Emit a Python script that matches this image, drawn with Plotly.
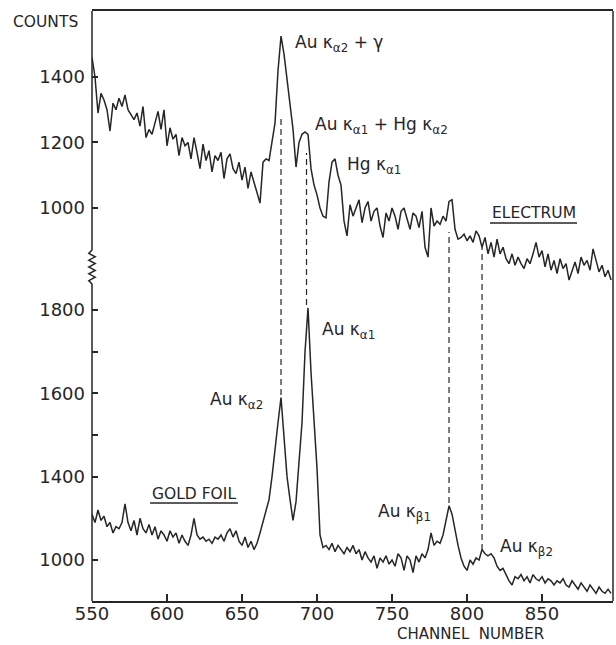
import plotly.graph_objects as go

# ---------------- data ----------------
channels = list(range(550, 897, 2))

electrum_counts = [
    1460, 1400, 1290, 1350, 1330, 1300, 1235, 1320, 1300, 1335,
    1310, 1345, 1300, 1285, 1270, 1290, 1250, 1310, 1215, 1240,
    1225, 1260, 1295, 1240, 1300, 1190, 1245, 1210, 1225, 1160,
    1215, 1190, 1200, 1150, 1215, 1170, 1120, 1195, 1145, 1175,
    1110, 1160, 1145, 1170, 1090, 1150, 1165, 1120, 1105, 1140,
    1085, 1125, 1060, 1110, 1080, 1050, 1015, 1140, 1150, 1145,
    1210, 1260, 1420, 1525, 1470, 1390, 1310, 1240, 1125, 1200,
    1225, 1232, 1225, 1120, 1070, 1040, 1000, 975, 970, 1080,
    1140, 1150, 1100, 1070, 960, 915, 1010, 975, 1000, 1025,
    955, 1000, 1020, 960, 990, 1000, 945, 910, 985, 960,
    1000, 975, 935, 990, 1000, 965, 935, 985, 975, 940,
    990, 880, 850, 1000, 945, 960, 950, 975, 960, 1020,
    1025, 935, 905, 910, 920, 900, 915, 895, 930, 915,
    880, 910, 860, 895, 850, 905, 860, 880, 845, 830,
    860, 825, 850, 830, 815, 845, 830, 860, 895, 850,
    870, 820, 860, 810, 840, 800, 845, 815, 830, 780,
    810, 835, 800, 850, 825, 840, 810, 875, 840, 805,
    825, 790, 810, 780,
]

gold_counts = [
    1310, 1290, 1320, 1295, 1305, 1280, 1290, 1265, 1280, 1275,
    1290, 1335, 1290, 1270, 1295, 1260, 1300, 1275, 1265, 1285,
    1260, 1280, 1250, 1270, 1260, 1245, 1270, 1255, 1265, 1240,
    1260, 1245, 1235, 1260, 1300, 1260, 1250, 1255, 1245, 1250,
    1240, 1255, 1250, 1260, 1245, 1265, 1275, 1255, 1270, 1245,
    1235, 1255, 1230, 1245, 1225, 1240, 1265, 1290, 1320, 1345,
    1400, 1470, 1530, 1590, 1490, 1400, 1345, 1295, 1340, 1440,
    1530, 1700, 1805, 1650, 1540, 1420, 1260, 1230, 1235, 1225,
    1240, 1220, 1235, 1225, 1215, 1230, 1220, 1235, 1215, 1225,
    1200, 1220, 1205, 1195, 1210, 1180, 1205, 1195, 1210, 1190,
    1200, 1185, 1215, 1205, 1175, 1210, 1200, 1170, 1210, 1195,
    1215, 1205, 1225, 1265, 1235, 1245, 1240, 1260, 1300, 1330,
    1310, 1270, 1235, 1205, 1185, 1175, 1200, 1190, 1205, 1200,
    1225, 1215, 1210, 1215, 1205, 1185, 1175, 1180, 1165, 1150,
    1140, 1160, 1155, 1165, 1150, 1160, 1145, 1165, 1155, 1150,
    1160, 1145, 1155, 1150, 1140, 1150, 1145, 1155, 1140, 1135,
    1150, 1140, 1130, 1145, 1135, 1125, 1140, 1130, 1120, 1135,
    1125, 1120, 1130, 1120,
]

x_tick_vals = [550, 600, 650, 700, 750, 800, 850]
x_tick_text = ["550", "600", "650", "700", "750", "800", "850"]

upper_tick_vals = [1000, 1200, 1400]
upper_tick_text = ["1000", "1200", "1400"]

lower_tick_vals = [1200, 1400, 1600, 1800]
lower_tick_text = ["1000", "1400", "1600", "1800"]
lower_minor_vals = [1500, 1700]

# dashed connector lines: channel, top (electrum count), bottom (gold count)
line_channels = [676, 693, 788, 810]
line_top_counts = [1278, 1168, 927, 887]
line_bottom_counts = [1596, 1812, 1337, 1224]

# ---------------- styling ----------------
W, H = 616, 645
ML, MR, MT, MB = 92, 3, 11, 44
X_RANGE = [550, 897.3]
UPPER_RANGE = [-200, 1601.5]
LOWER_RANGE = [1101.6, 2517.6]
INK = "#262626"
FONT = "DejaVu Sans"
PW, PH = W - ML - MR, H - MT - MB


def to_paper(v, rng):
    return (v - rng[0]) / (rng[1] - rng[0])


def py(pixel_y):
    return 1 - (pixel_y - MT) / PH


fig = go.Figure()
fig.add_trace(go.Scatter(x=channels, y=electrum_counts, yaxis="y2", mode="lines",
                         line=dict(color=INK, width=1.5), hoverinfo="skip"))
fig.add_trace(go.Scatter(x=channels, y=gold_counts, yaxis="y", mode="lines",
                         line=dict(color=INK, width=1.5), hoverinfo="skip"))

axis_common = dict(showgrid=False, zeroline=False, ticks="inside", tickcolor=INK,
                   tickwidth=1.5)
yfont = dict(family=FONT, size=18, color=INK)

fig.update_layout(
    width=W, height=H,
    margin=dict(l=ML, r=MR, t=MT, b=MB, autoexpand=False),
    paper_bgcolor="white", plot_bgcolor="white",
    showlegend=False,
    xaxis=dict(range=X_RANGE, tickvals=x_tick_vals, ticktext=x_tick_text,
               ticklen=7, showline=True, linecolor=INK, linewidth=1.5, mirror=True,
               tickfont=dict(family=FONT, size=18, color=INK),
               ticklabelstandoff=-4, **axis_common),
    yaxis=dict(range=LOWER_RANGE, tickvals=lower_tick_vals, ticktext=lower_tick_text,
               ticklen=6, showline=False, ticklabelstandoff=6, tickfont=yfont,
               minor=dict(tickvals=lower_minor_vals, ticks="inside", ticklen=6,
                          tickcolor=INK, tickwidth=1.5),
               **axis_common),
    yaxis2=dict(range=UPPER_RANGE, tickvals=upper_tick_vals, ticktext=upper_tick_text,
                ticklen=6, showline=False, overlaying="y", side="left",
                ticklabelstandoff=6, tickfont=yfont, **axis_common),
)

# left axis line with a zig-zag break
brk_top = py(250)
brk_bot = py(284)
n = 10
d = 3.2 / PW
pts = [(0, 1), (0, brk_top)]
for i in range(1, n):
    pts.append((-d if i % 2 else d, brk_top - (brk_top - brk_bot) * i / n))
pts += [(0, brk_bot), (0, 0)]
path = "M " + " L ".join(f"{x:.5f},{y:.5f}" for x, y in pts)
fig.add_shape(type="path", path=path, xref="paper", yref="paper",
              line=dict(color=INK, width=1.5))
# right frame line
fig.add_shape(type="line", xref="paper", yref="paper", x0=1, x1=1, y0=0, y1=1,
              line=dict(color=INK, width=1.5))

# dashed connector lines
for ch, top, bot in zip(line_channels, line_top_counts, line_bottom_counts):
    fig.add_shape(type="line", xref="x", yref="paper", x0=ch, x1=ch,
                  y0=to_paper(bot, LOWER_RANGE), y1=to_paper(top, UPPER_RANGE),
                  line=dict(color=INK, width=1.2, dash="6px,4px"))

# peak annotations
ann_font = dict(family=FONT, size=17, color=INK)
labels = [
    ("Au κ<sub>α2</sub> + γ", 684, 1501, "y2"),
    ("Au κ<sub>α1</sub> + Hg κ<sub>α2</sub>", 697.3, 1253, "y2"),
    ("Hg κ<sub>α1</sub>", 718.7, 1131, "y2"),
    ("Au κ<sub>α1</sub>", 702, 1750, "y"),
    ("Au κ<sub>α2</sub>", 627.3, 1584, "y"),
    ("Au κ<sub>β1</sub>", 739.3, 1315, "y"),
    ("Au κ<sub>β2</sub>", 820.7, 1229, "y"),
]
for text, x, y, yref in labels:
    fig.add_annotation(text=text, x=x, y=y, xref="x", yref=yref, xanchor="left",
                       yanchor="middle", showarrow=False, font=ann_font)

small_font = dict(family=FONT, size=15.5, color=INK)
fig.add_annotation(text="ELECTRUM", x=815.3, y=985, xref="x", yref="y2",
                   xanchor="left", yanchor="middle", showarrow=False, font=small_font)
fig.add_annotation(text="GOLD FOIL", x=588.7, y=1358, xref="x", yref="y",
                   xanchor="left", yanchor="middle", showarrow=False, font=small_font)
fig.add_shape(type="line", xref="x", yref="paper", x0=815.3, x1=873.3,
              y0=py(223), y1=py(223), line=dict(color=INK, width=1.5))
fig.add_shape(type="line", xref="x", yref="paper", x0=588.7, x1=647.3,
              y0=py(503), y1=py(503), line=dict(color=INK, width=1.5))

fig.add_annotation(text="COUNTS", x=(45 - ML) / PW, y=py(22), xref="paper",
                   yref="paper", xanchor="center", yanchor="middle", showarrow=False,
                   font=dict(family=FONT, size=15.5, color=INK))
fig.add_annotation(text="CHANNEL  NUMBER", x=802, y=py(634), xref="x",
                   yref="paper", xanchor="center", yanchor="middle", showarrow=False,
                   font=dict(family=FONT, size=15, color=INK))

fig.write_html(
    "out.html",
    config={"responsive": False, "displayModeBar": False},
    post_script="document.body.style.margin='0';document.body.style.overflow='hidden';",
)
